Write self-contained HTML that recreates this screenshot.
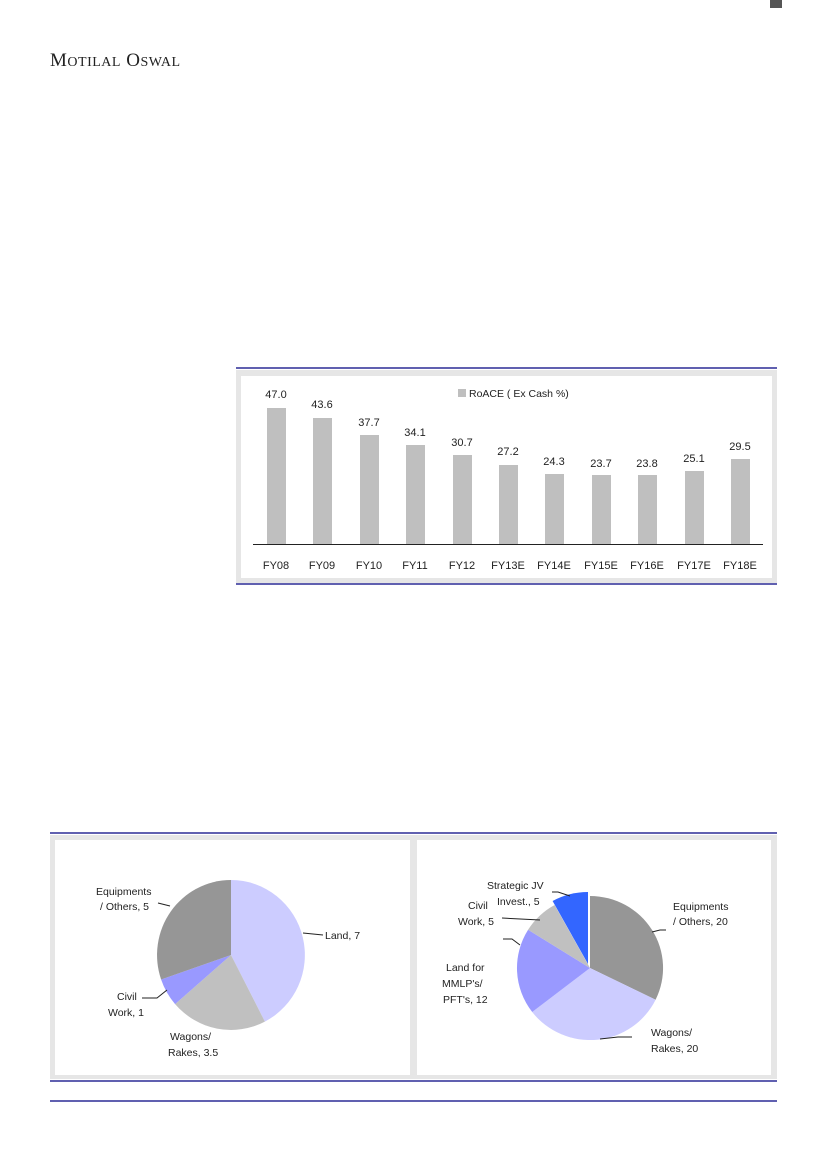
<!DOCTYPE html>
<html><head><meta charset="utf-8"><style>
html,body{margin:0;padding:0;background:#fff}
svg{display:block}
text{font-family:"Liberation Sans",sans-serif}
</style></head><body>
<svg width="826" height="1169" viewBox="0 0 826 1169" xmlns="http://www.w3.org/2000/svg">
<rect width="826" height="1169" fill="#fff"/>
<rect x="770" y="0" width="12" height="8" fill="#555"/>
<text x="50" y="66" style="font-family:'Liberation Serif',serif" font-size="19" fill="#222" letter-spacing="0.5">M<tspan font-size="14">OTILAL</tspan> O<tspan font-size="14">SWAL</tspan></text>

<!-- Bar chart -->
<line x1="236" y1="368" x2="777" y2="368" stroke="#000080" stroke-width="1.2"/>
<rect x="236" y="370" width="541" height="213" fill="#e6e6e6"/>
<rect x="241" y="376" width="531" height="202" fill="#fff"/>
<line x1="236" y1="584" x2="777" y2="584" stroke="#000080" stroke-width="1.2"/>
<rect x="458" y="389" width="8" height="8" fill="#bfbfbf"/>
<text x="469" y="397" font-size="10.5" fill="#222">RoACE ( Ex Cash %)</text>
<g fill="#bfbfbf">
<rect x="267" y="408" width="19" height="136"/>
<rect x="313" y="418" width="19" height="126"/>
<rect x="360" y="435" width="19" height="109"/>
<rect x="406" y="445" width="19" height="99"/>
<rect x="453" y="455" width="19" height="89"/>
<rect x="499" y="465" width="19" height="79"/>
<rect x="545" y="474" width="19" height="70"/>
<rect x="592" y="475" width="19" height="69"/>
<rect x="638" y="475" width="19" height="69"/>
<rect x="685" y="471" width="19" height="73"/>
<rect x="731" y="459" width="19" height="85"/>
</g>
<line x1="253" y1="544.5" x2="763" y2="544.5" stroke="#222" stroke-width="1"/>
<g font-size="11" fill="#222" text-anchor="middle">
<text x="276" y="398">47.0</text><text x="322" y="408">43.6</text><text x="369" y="426">37.7</text><text x="415" y="436">34.1</text><text x="462" y="446">30.7</text><text x="508" y="455">27.2</text><text x="554" y="465">24.3</text><text x="601" y="467">23.7</text><text x="647" y="467">23.8</text><text x="694" y="462">25.1</text><text x="740" y="450">29.5</text>
<text x="276" y="569">FY08</text><text x="322" y="569">FY09</text><text x="369" y="569">FY10</text><text x="415" y="569">FY11</text><text x="462" y="569">FY12</text><text x="508" y="569">FY13E</text><text x="554" y="569">FY14E</text><text x="601" y="569">FY15E</text><text x="647" y="569">FY16E</text><text x="694" y="569">FY17E</text><text x="740" y="569">FY18E</text>
</g>

<!-- Pies -->
<line x1="50" y1="833" x2="777" y2="833" stroke="#000080" stroke-width="1.2"/>
<rect x="50" y="835" width="727" height="244" fill="#e6e6e6"/>
<rect x="55" y="840" width="355" height="235" fill="#fff"/>
<rect x="417" y="840" width="354" height="235" fill="#fff"/>
<line x1="50" y1="1081" x2="777" y2="1081" stroke="#000080" stroke-width="1.2"/>
<line x1="50" y1="1101" x2="777" y2="1101" stroke="#000080" stroke-width="1.2"/>

<g>
<path d="M231,955 L231,880 A74,75 0 0 1 264.9,1021.6 Z" fill="#ccccff"/>
<path d="M231,955 L264.9,1021.6 A74,75 0 0 1 175.1,1004.1 Z" fill="#c0c0c0"/>
<path d="M231,955 L175.1,1004.1 A74,75 0 0 1 161.1,979.5 Z" fill="#9999ff"/>
<path d="M231,955 L161.1,979.5 A74,75 0 0 1 231,880 Z" fill="#969696"/>
</g>
<g fill="none" stroke="#222" stroke-width="1">
<polyline points="303,933 323,935"/>
<polyline points="167,990 157,998 142,998"/>
<polyline points="158,903 170,906"/>
</g>
<g font-size="10.5" fill="#222">
<text x="325" y="939">Land, 7</text>
<text x="96" y="895">Equipments</text><text x="100" y="910">/ Others, 5</text>
<text x="117" y="1000">Civil</text><text x="108" y="1016">Work, 1</text>
<text x="170" y="1040">Wagons/</text><text x="168" y="1056">Rakes, 3.5</text>
</g>

<g>
<path d="M590,968 L590,896 A73,72 0 0 1 655.6,999.7 Z" fill="#969696"/>
<path d="M590,968 L655.6,999.7 A73,72 0 0 1 532.2,1012 Z" fill="#ccccff"/>
<path d="M590,968 L532.2,1012 A73,72 0 0 1 528.1,929.8 Z" fill="#9999ff"/>
<path d="M590,968 L528.1,929.8 A73,72 0 0 1 554.6,905 Z" fill="#c0c0c0"/>
<path d="M588,964 L552.6,901 A73,72 0 0 1 588,892 Z" fill="#3366ff"/>
</g>
<g fill="none" stroke="#222" stroke-width="1">
<polyline points="652,932 660,930 666,930"/>
<polyline points="600,1039 618,1037 632,1037"/>
<polyline points="520,945 512,939 503,939"/>
<polyline points="540,920 502,918"/>
<polyline points="570,896 558,892 552,892"/>
</g>
<g font-size="10.5" fill="#222">
<text x="487" y="889">Strategic JV</text><text x="497" y="905">Invest., 5</text>
<text x="468" y="909">Civil</text><text x="458" y="925">Work, 5</text>
<text x="673" y="910">Equipments</text><text x="673" y="925">/ Others, 20</text>
<text x="446" y="971">Land for</text><text x="442" y="987">MMLP's/</text><text x="443" y="1003">PFT's, 12</text>
<text x="651" y="1036">Wagons/</text><text x="651" y="1052">Rakes, 20</text>
</g>
</svg>
</body></html>
